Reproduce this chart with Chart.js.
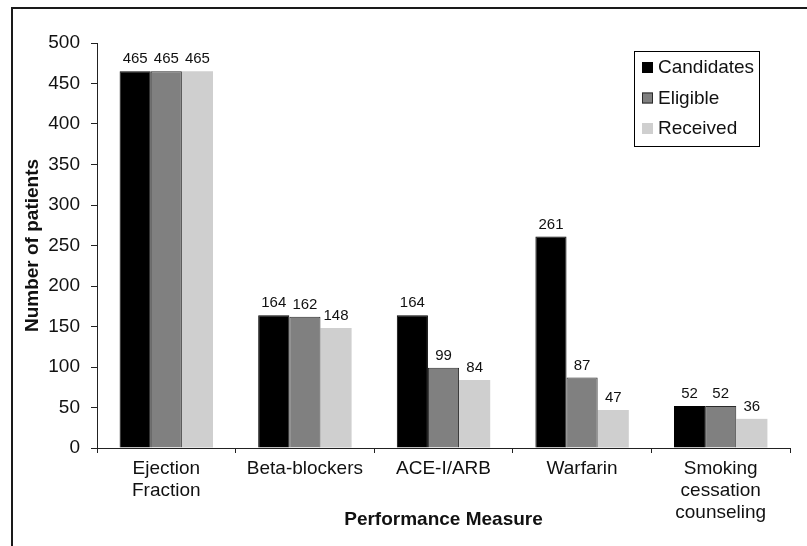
<!DOCTYPE html>
<html>
<head>
<meta charset="utf-8">
<script src="https://cdn.jsdelivr.net/npm/chart.js@4.4.1/dist/chart.umd.min.js"></script>
<style>
  html, body { margin: 0; padding: 0; background: #fff; }
  #wrap { position: relative; width: 807px; height: 546px; }
</style>
</head>
<body>
<div id="wrap"><canvas id="myChart" width="807" height="546"></canvas></div>
<script>
// values
const categories = [
  ["Ejection", "Fraction"],
  "Beta-blockers",
  "ACE-I/ARB",
  "Warfarin",
  ["Smoking", "cessation", "counseling"]
];
const candidates = [465, 164, 164, 261, 52];
const eligible = [465, 162, 99, 87, 52];
const received = [465, 148, 84, 47, 36];
const yTicks = [0, 50, 100, 150, 200, 250, 300, 350, 400, 450, 500];

const fontName = "'Liberation Sans', Arial, sans-serif";
const textColor = "#111";

// outer frame (top and left edge, the rest is cut off)
const framePlugin = {
  id: "frame",
  afterDraw(chart) {
    const c = chart.ctx;
    c.save();
    c.strokeStyle = "#1a1a1a";
    c.lineWidth = 2;
    c.beginPath();
    c.moveTo(12, 546);
    c.lineTo(12, 8);
    c.lineTo(807, 8);
    c.stroke();
    c.restore();
  }
};

// numbers above each bar
const valueLabels = {
  id: "valueLabels",
  afterDatasetsDraw(chart) {
    const c = chart.ctx;
    c.save();
    c.font = "15px " + fontName;
    c.fillStyle = textColor;
    c.textAlign = "center";
    c.textBaseline = "alphabetic";
    chart.data.datasets.forEach((ds, i) => {
      chart.getDatasetMeta(i).data.forEach((bar, j) => {
        c.fillText(ds.data[j], bar.x, bar.y - 8);
      });
    });
    c.restore();
  }
};

// legend box inside the plot, top right
const boxLegend = {
  id: "boxLegend",
  afterDraw(chart) {
    const c = chart.ctx;
    const bx = 634.5, by = 51.5, bw = 125, bh = 95;
    c.save();
    c.strokeStyle = "#000";
    c.lineWidth = 1;
    c.strokeRect(bx, by, bw, bh);
    c.font = "19px " + fontName;
    c.textBaseline = "middle";
    c.textAlign = "left";
    chart.data.datasets.forEach((ds, i) => {
      const cy = 67 + i * 30.5;
      c.fillStyle = ds.backgroundColor;
      c.fillRect(642, cy - 5, 11, 11);
      if (ds.borderWidth > 0) {
        c.strokeStyle = ds.borderColor;
        c.lineWidth = 1;
        c.strokeRect(642.5, cy - 4.5, 10, 10);
      }
      c.fillStyle = textColor;
      c.fillText(ds.label, 658, cy + 1);
    });
    c.restore();
  }
};

const ctx = document.getElementById("myChart");

const data = {
  labels: categories,
  datasets: [
    { label: "Candidates", data: candidates, backgroundColor: "#000000", borderColor: "#000000", borderWidth: 1 },
    { label: "Eligible", data: eligible, backgroundColor: "#808080", borderColor: "#2a2a2a", borderWidth: 1 },
    { label: "Received", data: received, backgroundColor: "#cfcfcf", borderColor: "#cfcfcf", borderWidth: 0 }
  ]
};

const config = {
  type: "bar",
  data: data,
  options: {
    responsive: false,
    animation: false,
    devicePixelRatio: 1,
    layout: { padding: { left: 0, top: 43, right: 17, bottom: 0 } },
    datasets: {
      bar: { categoryPercentage: 0.674, barPercentage: 1.0 }
    },
    plugins: {
      legend: { display: false },
      tooltip: { enabled: false }
    },
    scales: {
      x: {
        grid: {
          display: true,
          drawOnChartArea: false,
          offset: true,
          tickLength: 5,
          color: "#222"
        },
        border: { display: true, color: "#222", width: 1 },
        ticks: {
          color: textColor,
          padding: 5,
          maxRotation: 0,
          autoSkip: false,
          font: { family: fontName, size: 19, lineHeight: 1.15 }
        },
        title: {
          display: true,
          text: "Performance Measure",
          color: textColor,
          font: { family: fontName, size: 19, weight: "bold" },
          padding: { top: 0, bottom: 15 }
        },
        afterFit(scale) { scale.height = 98; }
      },
      y: {
        min: 0,
        max: 500,
        afterBuildTicks(scale) { scale.ticks = yTicks.map(v => ({ value: v })); },
        grid: {
          display: true,
          drawOnChartArea: false,
          tickLength: 6,
          color: "#222"
        },
        border: { display: true, color: "#222", width: 1 },
        ticks: {
          color: textColor,
          padding: 11,
          font: { family: fontName, size: 19 }
        },
        title: {
          display: true,
          text: "Number of patients",
          color: textColor,
          font: { family: fontName, size: 19, weight: "bold" },
          padding: { top: 21, bottom: 0 }
        },
        afterFit(scale) { scale.width = 97; }
      }
    }
  },
  plugins: [valueLabels, boxLegend, framePlugin]
};

const myChart = new Chart(ctx, config);
</script>
</body>
</html>
